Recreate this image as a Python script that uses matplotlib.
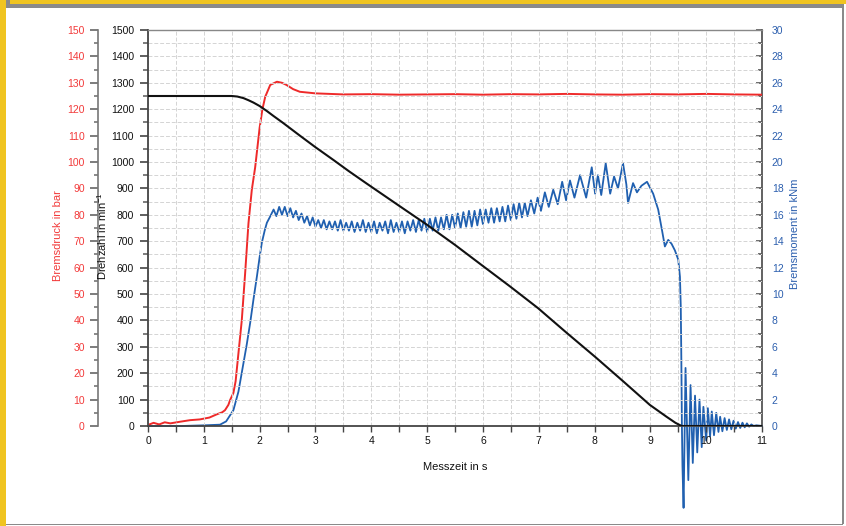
import matplotlib
matplotlib.use("Agg")
import matplotlib.pyplot as plt
from matplotlib.patches import Rectangle
from matplotlib.ticker import MultipleLocator

plt.rcParams['font.family'] = ['Liberation Sans', 'DejaVu Sans']
plt.rcParams['mathtext.default'] = 'regular'

# ---- data ----
# Drehzahl (rpm)
rpm_t = [0.0, 1.5, 1.6, 1.71, 1.8, 1.89, 2.0, 2.13, 2.25, 2.42, 2.72, 3.0, 3.32, 3.6, 3.92,
         4.5, 5.0, 5.5, 5.95, 6.49, 6.99, 7.5, 8.01, 8.52, 8.99, 9.29, 9.45, 9.56, 11.0]
rpm_v = [1250, 1250, 1248, 1242, 1234, 1225, 1212, 1193, 1174, 1148, 1100, 1056, 1008, 965, 918,
         834, 762, 686, 614, 528, 446, 353, 262, 168, 80, 35, 12, 0, 0]

# Bremsdruck (bar)
p_t = [0.0, 0.1, 0.2, 0.3, 0.4, 0.57, 0.75, 0.93, 1.1, 1.23, 1.33, 1.38, 1.44, 1.47, 1.53, 1.57,
       1.62, 1.68, 1.74, 1.80, 1.86, 1.92, 2.0, 2.05, 2.10, 2.19, 2.31, 2.40, 2.48, 2.60, 2.72,
       3.0, 3.5, 4.0, 4.5, 5.0, 5.5, 6.0, 6.5, 7.0, 7.5, 8.0, 8.5, 9.0, 9.5, 10.0, 10.5, 11.0]
p_v = [0.4, 1.2, 0.6, 1.4, 1.0, 1.6, 2.2, 2.5, 3.2, 4.4, 5.2, 6.0, 8.0, 9.8, 12.5, 17.0,
       27.5, 40.0, 57.8, 76.8, 89.5, 98.0, 113.0, 120.0, 124.7, 129.2, 130.4, 130.0, 129.2, 127.6, 126.6,
       126.0, 125.6, 125.7, 125.5, 125.6, 125.7, 125.5, 125.7, 125.6, 125.8, 125.6, 125.5, 125.7, 125.6, 125.8, 125.6, 125.5]

# Bremsmoment (kNm)
m_t = [0.0, 0.6, 1.0, 1.29, 1.40, 1.53, 1.62, 1.70, 1.77, 1.83, 1.89, 1.95, 2.00, 2.04, 2.09, 2.13, 2.18,
       2.25, 2.30, 2.35, 2.40, 2.45, 2.50, 2.55, 2.60, 2.65, 2.70, 2.75, 2.80, 2.85, 2.90, 2.95, 3.00,
       3.05, 3.10, 3.15, 3.20, 3.25, 3.30, 3.35, 3.40, 3.45, 3.50, 3.55, 3.60, 3.65, 3.70, 3.75, 3.80,
       3.85, 3.90, 3.95, 4.00, 4.05, 4.10, 4.15, 4.20, 4.25, 4.30, 4.35, 4.40, 4.45, 4.50, 4.55, 4.60,
       4.65, 4.70, 4.75, 4.80, 4.85, 4.90, 4.95, 5.00, 5.05, 5.10, 5.15, 5.20, 5.25, 5.30, 5.35, 5.40,
       5.45, 5.50, 5.55, 5.60, 5.65, 5.70, 5.75, 5.80, 5.85, 5.90, 5.95, 6.00, 6.05, 6.10, 6.15, 6.20,
       6.25, 6.30, 6.35, 6.40, 6.45, 6.50, 6.55, 6.60, 6.65, 6.70, 6.75,
       6.80, 6.86, 6.92, 6.98, 7.04, 7.11, 7.18, 7.26, 7.34, 7.42, 7.49, 7.56, 7.64, 7.74, 7.85, 7.95,
       8.01, 8.06, 8.12, 8.20, 8.28, 8.35, 8.42, 8.51, 8.57, 8.60, 8.69, 8.76, 8.84, 8.94, 9.05, 9.14,
       9.21, 9.26, 9.32, 9.38, 9.44, 9.50, 9.53, 9.545, 9.555, 9.565, 9.575, 9.595,
       9.63, 9.68, 9.72, 9.76, 9.80, 9.84, 9.88, 9.92, 9.95, 10.00, 10.03, 10.07, 10.10, 10.14, 10.18,
       10.22, 10.25, 10.29, 10.33, 10.37, 10.41, 10.45, 10.49, 10.53, 10.57, 10.61, 10.65, 10.69,
       10.73, 10.77, 10.81, 10.85, 10.90, 11.0]
m_v = [0.0, 0.0, 0.05, 0.1, 0.35, 1.2, 2.6, 4.5, 6.2, 7.8, 9.6, 11.3, 12.8, 13.9, 14.8, 15.4, 15.8,
       16.4, 15.9, 16.6, 16.0, 16.6, 15.9, 16.5, 15.8, 16.3, 15.6, 16.1, 15.4, 15.9, 15.2, 15.8, 15.1,
       15.6, 15.0, 15.6, 14.9, 15.5, 14.9, 15.5, 14.8, 15.6, 14.8, 15.4, 14.8, 15.5, 14.7, 15.4, 14.8,
       15.6, 14.7, 15.4, 14.7, 15.5, 14.6, 15.4, 14.8, 15.5, 14.6, 15.6, 14.7, 15.4, 14.7, 15.5, 14.6,
       15.5, 14.8, 15.6, 14.7, 15.6, 14.8, 15.7, 14.7, 15.7, 14.8, 15.8, 14.8, 15.8, 14.9, 16.0, 14.9,
       16.0, 15.0, 16.1, 15.0, 16.2, 15.1, 16.3, 15.1, 16.3, 15.2, 16.4, 15.3, 16.4, 15.4, 16.5, 15.4,
       16.5, 15.5, 16.6, 15.5, 16.7, 15.6, 16.8, 15.7, 16.9, 15.8, 16.9,
       15.9, 17.1, 16.1, 17.3, 16.3, 17.7, 16.6, 17.9, 16.8, 18.5, 17.1, 18.6, 17.3, 19.0, 17.3, 19.6,
       17.6, 19.0, 17.5, 19.9, 17.6, 18.9, 18.0, 19.9, 18.3, 16.9, 18.4, 17.7, 18.2, 18.5, 17.6, 16.4,
       14.8, 13.6, 14.1, 13.8, 13.3, 12.6, 11.3, 9.0, 5.0, 0.0, -3.0, -6.2,
       4.4, -4.1, 3.1, -2.8, 2.3, -2.0, 2.0, -1.6, 1.45, -1.1, 1.35, -0.8, 1.1, -0.7, 1.0,
       -0.45, 0.7, -0.4, 0.6, -0.3, 0.5, -0.25, 0.4, -0.2, 0.3, -0.15, 0.25, -0.1,
       0.2, -0.05, 0.12, 0.0, 0.05, 0.0]

x_ticks = list(range(0, 12))
rpm_ticks = list(range(0, 1600, 100))
p_ticks = list(range(0, 160, 10))
m_ticks = list(range(0, 32, 2))

RED = '#ee2a2a'
RED_TXT = '#f23a3a'
BLUE = '#2060b0'
BLUE_TXT = '#2c5fae'
BLACK = '#111111'

fig = plt.figure(figsize=(8.46, 5.26), dpi=100)
fig.patch.set_facecolor('white')

W, H = 846, 526
def fx(px):
    return px / W
def fy(py):
    return 1 - py / H

# frame decoration
fig.add_artist(Rectangle((0, fy(4)), 1, 4 / H, transform=fig.transFigure, color='#f0c420', lw=0, zorder=-5))
fig.add_artist(Rectangle((0, 0), 6 / W, 1, transform=fig.transFigure, color='#f0c420', lw=0, zorder=-5))
fig.add_artist(Rectangle((fx(6), fy(524)), (843 - 6) / W, (524 - 4) / H, transform=fig.transFigure,
                         facecolor='white', edgecolor='#8a8a8a', lw=0, zorder=-4))
fig.add_artist(Rectangle((fx(6), fy(8)), 4 / W, (524 - 8) / H, transform=fig.transFigure, color='#8a8a8a', lw=0, zorder=-3))
fig.add_artist(Rectangle((fx(6), fy(8)), (843 - 6) / W, 4 / H, transform=fig.transFigure, color='#8a8a8a', lw=0, zorder=-3))
fig.add_artist(Rectangle((fx(842), fy(524)), 1.5 / W, (524 - 4) / H, transform=fig.transFigure, color='#8a8a8a', lw=0, zorder=-3))
fig.add_artist(Rectangle((fx(6), fy(525)), (843 - 6) / W, 1.5 / H, transform=fig.transFigure, color='#8a8a8a', lw=0, zorder=-3))

ax = fig.add_axes([fx(148), fy(426), (762 - 148) / W, (426 - 30) / H])
ax.set_facecolor('none')
ax_b = ax.twinx()
ax_r = ax.twinx()

# main axis (Drehzahl)
ax.set_xlim(0, 11)
ax.set_ylim(0, 1500)
ax.set_xticks(x_ticks)
ax.xaxis.set_minor_locator(MultipleLocator(0.5))
ax.set_yticks(rpm_ticks)
ax.yaxis.set_minor_locator(MultipleLocator(50))
ax.grid(which='both', color='#d4d4d4', linestyle=(0, (4, 2)), linewidth=0.7)
ax.set_axisbelow(True)
ax.tick_params(axis='x', which='both', direction='out', length=4, width=1.0, color='#444444',
               labelsize=7.5, pad=3, labelcolor='#111111')
ax.tick_params(axis='y', which='major', direction='out', length=6, width=1.2, color='#444444',
               labelsize=7.5, pad=4, labelcolor='#111111')
ax.tick_params(axis='y', which='minor', direction='out', length=3.5, width=1.2, color='#666666')
for s in ['left', 'bottom']:
    ax.spines[s].set_color('#444444')
    ax.spines[s].set_linewidth(1.3)
ax.spines['top'].set_color('#888888')
ax.spines['top'].set_linewidth(1.0)
ax.spines['right'].set_visible(False)
ax.set_xlabel('Messzeit in s', fontsize=8, color='#111111', labelpad=12)
ax.set_ylabel('Drehzahl in min$^{-1}$', fontsize=8, color='#111111')
ax.yaxis.set_label_coords(-0.0635, 0.48)

# blue axis (Bremsmoment) on right
ax_b.set_ylim(0, 30)
ax_b.set_yticks(m_ticks)
ax_b.yaxis.set_minor_locator(MultipleLocator(1))
ax_b.tick_params(axis='y', which='major', direction='in', length=4, width=1.2, color='#555555',
                 labelsize=7.5, pad=7, labelcolor=BLUE_TXT)
ax_b.tick_params(axis='y', which='minor', direction='in', length=3, width=1.2, color='#555555')
for s in ['left', 'top', 'bottom']:
    ax_b.spines[s].set_visible(False)
ax_b.spines['right'].set_color('#555555')
ax_b.spines['right'].set_linewidth(1.3)
ax_b.set_ylabel('Bremsmoment in kNm', fontsize=8, color=BLUE_TXT)
ax_b.yaxis.set_label_coords(1.046, 0.485)

# red axis (Bremsdruck) on left, offset
ax_r.set_ylim(0, 150)
ax_r.yaxis.set_ticks_position('left')
ax_r.yaxis.set_label_position('left')
ax_r.spines['left'].set_position(('outward', 36))
ax_r.spines['left'].set_visible(True)
ax_r.spines['left'].set_color('#777777')
ax_r.spines['left'].set_linewidth(1.2)
for s in ['right', 'top', 'bottom']:
    ax_r.spines[s].set_visible(False)
ax_r.set_yticks(p_ticks)
ax_r.yaxis.set_minor_locator(MultipleLocator(5))
ax_r.tick_params(axis='y', which='major', direction='out', length=6, width=1.2, color='#666666',
                 labelsize=7.5, pad=3.5, labelcolor=RED_TXT)
ax_r.tick_params(axis='y', which='minor', direction='out', length=3, width=1.2, color='#777777')
ax_r.set_ylabel('Bremsdruck in bar', fontsize=8, color=RED_TXT)
ax_r.yaxis.set_label_coords(-0.139, 0.482)

# data lines
ax_b.plot(m_t, m_v, color=BLUE, lw=1.3, clip_on=False, zorder=3)
ax_r.plot(p_t, p_v, color=RED, lw=1.4, zorder=4)
ax.plot(rpm_t, rpm_v, color=BLACK, lw=1.5, zorder=5)

ax.set_zorder(3)
ax_r.set_zorder(2)
ax_b.set_zorder(1)
ax_b.patch.set_visible(False)
ax_r.patch.set_visible(False)
ax.patch.set_visible(False)

fig.savefig('out.png', dpi=100)
